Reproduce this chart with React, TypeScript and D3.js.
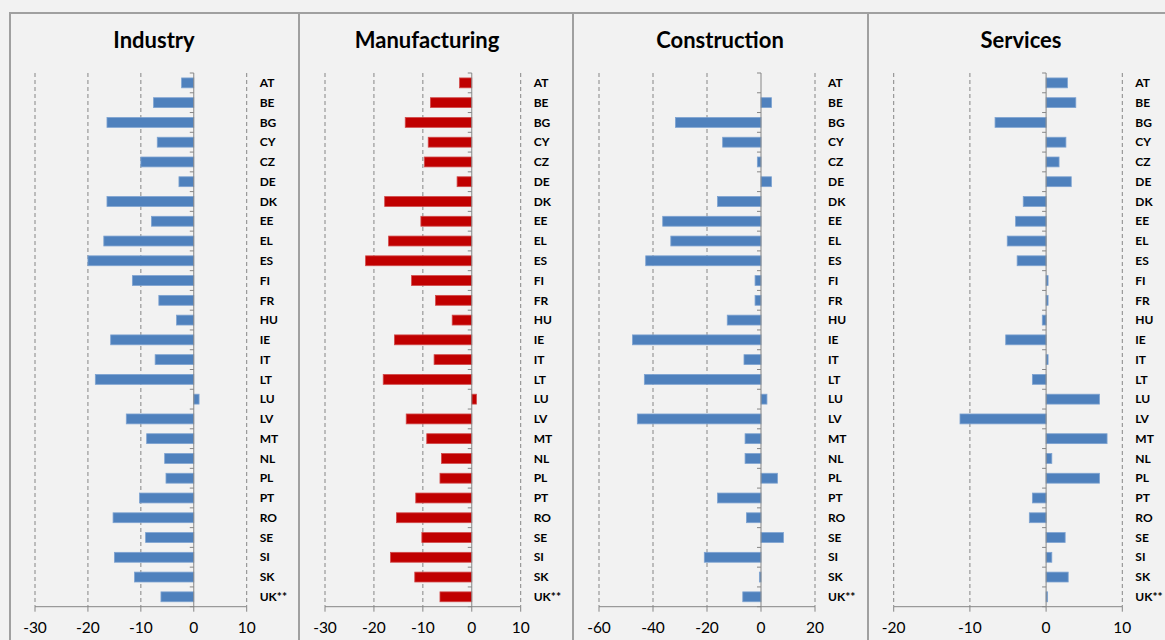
import React from "react";
import * as d3 from "d3";

const countries = ["AT","BE","BG","CY","CZ","DE","DK","EE","EL","ES","FI","FR","HU","IE","IT","LT","LU","LV","MT","NL","PL","PT","RO","SE","SI","SK","UK**"];

const industry = [-2.3,-7.6,-16.4,-6.9,-10.0,-2.8,-16.4,-8.0,-17.0,-20.0,-11.6,-6.6,-3.25,-15.7,-7.3,-18.6,1.0,-12.75,-8.9,-5.5,-5.25,-10.25,-15.25,-9.1,-15.0,-11.2,-6.2];
const manufacturing = [-2.5,-8.45,-13.6,-8.9,-9.7,-3.0,-17.8,-10.4,-17.0,-21.7,-12.3,-7.4,-4.0,-15.8,-7.7,-18.1,0.95,-13.4,-9.2,-6.2,-6.5,-11.45,-15.4,-10.2,-16.6,-11.65,-6.5];
const construction = [0,3.9,-31.7,-14.2,-1.35,3.9,-16.1,-36.4,-33.4,-42.7,-2.2,-2.2,-12.5,-47.6,-6.3,-43.2,2.2,-45.8,-5.9,-5.9,6.1,-16.1,-5.4,8.3,-21.0,-0.6,-6.75];
const services = [2.8,3.9,-6.7,2.6,1.7,3.3,-3.0,-4.0,-5.1,-3.8,0.26,0.26,-0.5,-5.3,0.26,-1.8,7.0,-11.3,8.0,0.75,7.0,-1.8,-2.2,2.5,0.75,2.9,0.2];

const industryTicks = [-30,-20,-10,0,10];
const manufacturingTicks = [-30,-20,-10,0,10];
const constructionTicks = [-60,-40,-20,0,20];
const servicesTicks = [-20,-10,0,10];

const panels = [
  { title: "Industry", values: industry, ticks: industryTicks, color: "#4f81bd", stroke: "#7ea3d1", range: [35, 246.7], titleX: 154 },
  { title: "Manufacturing", values: manufacturing, ticks: manufacturingTicks, color: "#c00000", stroke: "#d24a4a", range: [325, 520.7], titleX: 427 },
  { title: "Construction", values: construction, ticks: constructionTicks, color: "#4f81bd", stroke: "#7ea3d1", range: [599, 815], titleX: 720 },
  { title: "Services", values: services, ticks: servicesTicks, color: "#4f81bd", stroke: "#7ea3d1", range: [893.7, 1122.3], titleX: 1021 },
];

const dividers = [10, 299, 573, 868];
const TOP = 73;
const BOTTOM = 606.7;
const FONT = "Lato, 'Open Sans', 'DejaVu Sans', sans-serif";

function Panel({ p }: { p: any }) {
  const x = d3.scaleLinear().domain([p.ticks[0], p.ticks[p.ticks.length - 1]]).range(p.range);
  const y = d3.scaleBand<string>().domain(countries).range([TOP, BOTTOM]).paddingInner(0.5).paddingOuter(0.25);
  const step = y.step();
  const x0 = x(0);
  return (
    <g>
      <text x={p.titleX} y={48} textAnchor="middle" fontFamily={FONT} fontWeight="bold" fontSize={22} fill="#000">{p.title}</text>
      {p.ticks.filter((t: number) => t !== 0).map((t: number) => (
        <line key={"g" + t} x1={x(t)} x2={x(t)} y1={TOP} y2={BOTTOM} stroke="#868686" strokeWidth={1} strokeDasharray="4,3" />
      ))}
      {countries.map((c, i) => {
        const v = p.values[i];
        const bx = Math.min(x(v), x0);
        const w = Math.abs(x(v) - x0);
        return (
          <rect key={"b" + c} x={bx} y={y(c)} width={w} height={y.bandwidth()} fill={p.color} stroke={w > 0.5 ? p.stroke : "none"} strokeWidth={0.8} />
        );
      })}
      {d3.range(countries.length + 1).map((i) => (
        <line key={"ct" + i} x1={x0 - 4} x2={x0} y1={TOP + i * step} y2={TOP + i * step} stroke="#868686" strokeWidth={1} />
      ))}
      <line x1={x0} x2={x0} y1={TOP} y2={BOTTOM} stroke="#868686" strokeWidth={1} />
      <line x1={p.range[0]} x2={p.range[1]} y1={BOTTOM} y2={BOTTOM} stroke="#868686" strokeWidth={1} />
      {p.ticks.map((t: number) => (
        <g key={"t" + t}>
          <line x1={x(t)} x2={x(t)} y1={BOTTOM} y2={BOTTOM + 5} stroke="#868686" strokeWidth={1} />
          <text x={x(t)} y={633} textAnchor="middle" fontFamily={FONT} fontSize={15.5} fill="#000">{t}</text>
        </g>
      ))}
      {countries.map((c) => (
        <text key={"l" + c} x={p.range[1] + 13} y={(y(c) as number) + y.bandwidth() / 2} dy="0.35em" fontFamily={FONT} fontWeight="bold" fontSize={12} fill="#000">{c}</text>
      ))}
    </g>
  );
}

export default function App() {
  return (
    <svg width={1165} height={640} style={{ position: "absolute", left: 0, top: 0 }}>
      <rect x={0} y={0} width={1165} height={640} fill="#f2f2f2" />
      <line x1={10} x2={1165} y1={13} y2={13} stroke="#a0a0a0" strokeWidth={2} />
      {dividers.map((d) => (
        <line key={"d" + d} x1={d} x2={d} y1={12} y2={640} stroke="#a0a0a0" strokeWidth={2} />
      ))}
      {panels.map((p) => (
        <Panel key={p.title} p={p} />
      ))}
    </svg>
  );
}
